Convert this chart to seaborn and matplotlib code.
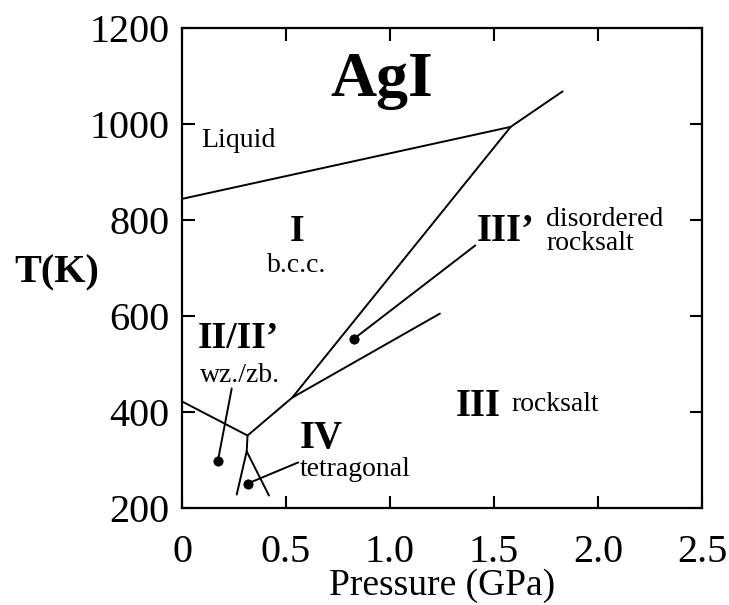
import pandas as pd
import matplotlib
matplotlib.use("Agg")
import matplotlib.pyplot as plt
import seaborn as sns

# ---- phase boundaries of AgI, pressure (GPa) vs temperature (K)
melt_P = [0.0, 1.58, 1.83]
melt_T = [844, 994, 1068]

bcc_P = [1.58, 0.53, 0.315, 0.0]
bcc_T = [994, 430, 351, 422]

rocksalt_P = [0.53, 1.24]
rocksalt_T = [430, 605]

stem_P = [0.315, 0.311]
stem_T = [351, 318]

tetra_P = [0.263, 0.311, 0.418]
tetra_T = [228, 318, 226]

# ---- leader lines from the labels to the dots
lead3_P = [1.41, 0.828]
lead3_T = [747, 553]
lead2_P = [0.239, 0.172]
lead2_T = [449, 297]
lead4_P = [0.559, 0.316]
lead4_T = [295, 251]

dot_P = [0.828, 0.172, 0.316]
dot_T = [553, 297, 251]

x_ticks = [0, 0.5, 1.0, 1.5, 2.0, 2.5]
x_labels = ["0", "0.5", "1.0", "1.5", "2.0", "2.5"]
y_ticks = [200, 400, 600, 800, 1000, 1200]

# ---- build one long table of line segments
segs = {
    "melt": (melt_P, melt_T),
    "bcc": (bcc_P, bcc_T),
    "rocksalt": (rocksalt_P, rocksalt_T),
    "stem": (stem_P, stem_T),
    "tetra": (tetra_P, tetra_T),
    "lead3": (lead3_P, lead3_T),
    "lead2": (lead2_P, lead2_T),
    "lead4": (lead4_P, lead4_T),
}
rows = []
for name, (ps, ts) in segs.items():
    for p, t in zip(ps, ts):
        rows.append({"seg": name, "P": p, "T": t})
df = pd.DataFrame(rows)

sns.set_style("ticks")
plt.rcParams["font.family"] = ["Liberation Serif", "DejaVu Serif"]
plt.rcParams["text.color"] = "black"
plt.rcParams["axes.labelcolor"] = "black"

fig = plt.figure(figsize=(7.29, 6.05), dpi=100)
ax = fig.add_axes([182 / 729, 1 - 508 / 605, 520 / 729, 480 / 605])

sns.lineplot(data=df, x="P", y="T", units="seg", estimator=None, sort=False,
             color="black", linewidth=1.4, legend=False, ax=ax)
sns.scatterplot(x=dot_P, y=dot_T, color="black", s=45, edgecolor="black",
                zorder=5, ax=ax)

ax.set_xlim(0, 2.5)
ax.set_ylim(200, 1200)
ax.set_xticks(x_ticks)
ax.set_xticklabels(x_labels)
ax.set_yticks(y_ticks)

for sp in ax.spines.values():
    sp.set_linewidth(1.6)
    sp.set_color("black")
ax.tick_params(direction="in", length=9, width=1.5, top=True, right=True,
               labelsize=29, colors="black")
ax.tick_params(axis="x", pad=19)
ax.tick_params(axis="y", pad=9)

ax.set_xlabel("Pressure (GPa)", fontsize=27, color="black")
ax.xaxis.set_label_coords(0.5, -0.125)
ax.set_ylabel("T(K)", fontsize=29, fontweight="bold", rotation=0,
              ha="center", va="center", color="black")
ax.yaxis.set_label_coords(-0.24, 0.49)

# ---- region labels
ax.text(0.96, 1089, "AgI", fontsize=46, fontweight="bold", ha="center", va="center")
ax.text(0.273, 965, "Liquid", fontsize=20, ha="center", va="center")
ax.text(0.555, 776, "I", fontsize=27, fontweight="bold", ha="center", va="center")
ax.text(0.551, 705, "b.c.c.", fontsize=20, ha="center", va="center")
ax.text(1.556, 776, "III\u2019", fontsize=28, fontweight="bold", ha="center", va="center")
ax.text(1.75, 776, "disordered\nrocksalt", fontsize=20, ha="left", va="center",
        linespacing=0.9)
ax.text(0.273, 553, "II/II\u2019", fontsize=27, fontweight="bold", ha="center", va="center")
ax.text(0.281, 477, "wz./zb.", fontsize=20, ha="center", va="center")
ax.text(1.424, 411, "III", fontsize=28, fontweight="bold", ha="center", va="center")
ax.text(1.585, 415, "rocksalt", fontsize=20, ha="left", va="center")
ax.text(0.67, 344, "IV", fontsize=28, fontweight="bold", ha="center", va="center")
ax.text(0.568, 280, "tetragonal", fontsize=20, ha="left", va="center")

fig.savefig("out.png", dpi=100)
